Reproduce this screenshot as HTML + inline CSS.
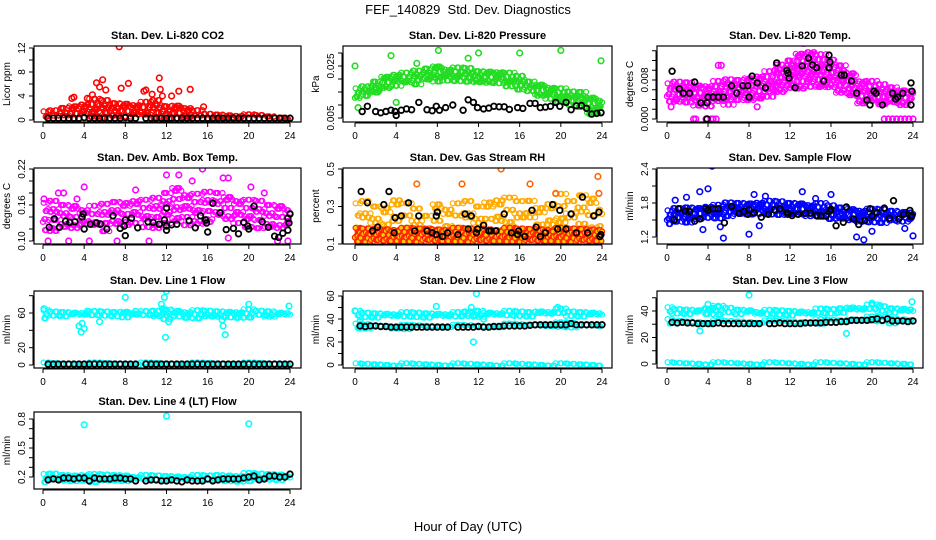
<!DOCTYPE html>
<html><head><meta charset="utf-8">
<style>
html,body{margin:0;padding:0;background:#fff;}
svg{display:block;font-family:"Liberation Sans",Arial,sans-serif;}
</style></head>
<body>
<svg id="chart" width="936" height="540" viewBox="0 0 936 540" xmlns="http://www.w3.org/2000/svg">
<rect width="936" height="540" fill="#fff"/>
<text x="468" y="14" text-anchor="middle" font-size="13">FEF_140829&#160; Std. Dev. Diagnostics</text>
<text x="468" y="531" text-anchor="middle" font-size="13">Hour of Day (UTC)</text>
<g id="panels"></g>
</svg>
<script>
const hours = [0,1,2,3,4,5,6,7,8,9,10,11,12,13,14,15,16,17,18,19,20,21,22,23,24];
const xTicks = [0,4,8,12,16,20,24];

// CO2
const co2Lo = [0.2,0.2,0.2,0.2,0.2,0.2,0.2,0.2,0.2,0.2,0.2,0.2,0.2,0.2,0.2,0.2,0.2,0.2,0.2,0.2,0.2,0.2,0.2,0.2,0.2];
const co2Hi = [1.2,1.5,2,2.4,2.8,3.3,3.2,2.8,2.8,2.7,2.8,3.2,2.3,2.5,2.2,1.4,0.9,0.9,0.9,0.9,0.7,0.7,0.6,0.5,0.4];
const co2OutH = [7.4,5.2,5.8,8.3,11.3,13.2,14.3,6.1,11.4,10,5.5,7.6,3,4.3,12.5,9.8,15.6,2.8,4.8,10.6,11.6];
const co2OutV = [12.2,6.2,6.7,6.1,7,4.8,5.1,5,5.1,5,5.5,5.3,3.8,3.6,4,4.8,2.2,3.6,4.2,4.3,4];
const co2BlkH = [0.5,1,1.5,2,2.5,3,3.5,4,4.5,5,5.5,6,6.5,7,7.5,8,8.5,9,10,10.5,11,11.5,12,12.5,13,13.5,14,14.5,15,15.5,16,16.5,17,17.5,18,18.5,19,19.5,20,20.5,21,21.5,22,22.5,23,23.5,24];
const co2BlkV = [0.3,0.3,0.3,0.3,0.3,0.3,0.3,0.4,0.3,0.3,0.3,0.3,0.3,0.3,0.3,0.4,0.3,0.3,0.3,0.3,0.3,0.3,0.3,0.3,0.3,0.3,0.3,0.3,0.3,0.3,0.3,0.3,0.3,0.3,0.3,0.3,0.3,0.3,0.3,0.3,0.3,0.3,0.3,0.3,0.3,0.3,0.3];

// Pressure
const prLo = [0.012,0.013,0.014,0.016,0.017,0.018,0.018,0.019,0.019,0.019,0.019,0.019,0.018,0.018,0.018,0.017,0.016,0.015,0.013,0.012,0.011,0.010,0.009,0.006,0.007];
const prHi = [0.016,0.017,0.019,0.021,0.022,0.022,0.023,0.024,0.025,0.024,0.024,0.024,0.023,0.023,0.023,0.022,0.021,0.019,0.018,0.017,0.016,0.015,0.015,0.013,0.012];
const prOutH = [0,8.1,3.5,12,16,20,23.9,11,4,6,0.3];
const prOutV = [0.025,0.031,0.029,0.030,0.030,0.031,0.027,0.028,0.011,0.026,0.009];
const prBlkH = [0.7,1.2,2,2.5,3,3.5,3.9,4,4.5,5,5.5,6.2,7,7.5,7.9,8.2,8.8,9.5,10.5,11,11.5,11.9,12.5,13,13.5,14,14.5,15,15.8,16.3,17,17.5,18,18.5,19,19.5,19.9,20.5,21,21.5,22,22.5,23,23.5,23.9];
const prBlkV = [0.0075,0.0095,0.0075,0.007,0.0075,0.008,0.0075,0.006,0.008,0.0085,0.0082,0.011,0.0082,0.0078,0.0095,0.008,0.009,0.010,0.008,0.012,0.011,0.009,0.0085,0.0088,0.0095,0.0093,0.0093,0.0083,0.009,0.0087,0.0106,0.0106,0.009,0.0092,0.0095,0.011,0.0095,0.011,0.0082,0.0097,0.0098,0.0087,0.0065,0.0068,0.007];

// Li-820 temp
const ltLo = [0.003,0.003,0.003,0.0025,0.0025,0.003,0.003,0.0035,0.0035,0.004,0.0045,0.005,0.0055,0.006,0.0065,0.006,0.0055,0.005,0.004,0.003,0.003,0.0025,0.0025,0.0025,0.003];
const ltHi = [0.007,0.0075,0.0075,0.007,0.007,0.0075,0.008,0.008,0.0085,0.009,0.0095,0.011,0.012,0.0135,0.014,0.013,0.012,0.011,0.0095,0.008,0.0075,0.007,0.0065,0.006,0.006];
const ltOutH = [2.6,2.8,3.8,4.3,4.5,4.8,21.2,21.6,22,22.4,22.8,23.2,23.6,24,13.3,0.4,5,5.3,7.9,8.8];
const ltOutV = [0,0,0,0,0,0,0,0,0,0,0,0,0,0,0.0155,0.0025,0.011,0.011,0.004,0.0025];
const ltBlkH = [0.5,1.2,1.6,2.2,2.7,3.3,3.9,3.9,4,4.5,5,5.5,6.3,6.8,7.4,7.9,8,8.3,8.8,9.6,10.7,11.7,11.8,11.9,12.5,13.2,13.8,14.2,14.6,15.3,15.8,15.9,15.8,17,17.3,18,18.5,19.5,19.8,20.2,20.4,21,22,22.3,22.5,23,23.8,23.9,23.8];
const ltBlkV = [0.0098,0.0062,0.0053,0.0053,0.0076,0.0033,0.0033,0,0.0045,0.0045,0.0045,0.0045,0.0068,0.0053,0.0068,0.0068,0.0045,0.0088,0.0074,0.0064,0.0115,0.01,0.0094,0.0084,0.0064,0.0109,0.0125,0.0111,0.0105,0.0078,0.0131,0.0117,0.0105,0.009,0.009,0.0078,0.0053,0.0039,0.0029,0.0057,0.0053,0.0029,0.0053,0.0041,0.0045,0.0053,0.0074,0.0057,0.0029];

// Amb box temp
const abLo = [0.12,0.115,0.12,0.115,0.12,0.12,0.12,0.125,0.12,0.125,0.125,0.12,0.125,0.13,0.13,0.125,0.13,0.135,0.13,0.125,0.125,0.12,0.115,0.115,0.12];
const abHi = [0.16,0.165,0.16,0.16,0.155,0.155,0.16,0.165,0.165,0.17,0.165,0.17,0.18,0.19,0.18,0.175,0.18,0.18,0.175,0.17,0.165,0.165,0.16,0.16,0.155];
const abOutH = [4,1.5,2,3.3,12,13.2,15.5,17.5,18,20.2,21.5,0.5,2.5,7.2,10.3,23.8,18,22.8,4.5,0.1,9,14.5];
const abOutV = [0.19,0.18,0.18,0.17,0.21,0.21,0.22,0.205,0.205,0.19,0.18,0.1,0.1,0.1,0.1,0.1,0.105,0.1,0.1,0.17,0.185,0.2];
const abBlkH = [0.6,1.1,1.6,2.2,2.6,3.1,3.8,3.9,4,4.6,5.2,5.6,6.2,6.8,7.5,7.9,8,8,8.6,9.2,10.2,10.7,11.3,11.8,12,12,12,12.5,13,14.2,14.8,15.3,15.8,15.9,16,16.5,17.2,17.8,18.5,19,19.5,19.9,20,20.5,21.3,21.9,22.5,22.9,23.3,23.8,23.9,23.8,24];
const abBlkV = [0.123,0.137,0.123,0.133,0.131,0.132,0.14,0.145,0.12,0.128,0.13,0.128,0.12,0.142,0.121,0.125,0.135,0.109,0.138,0.122,0.132,0.131,0.128,0.135,0.118,0.125,0.155,0.127,0.128,0.134,0.122,0.142,0.135,0.13,0.115,0.163,0.147,0.119,0.121,0.112,0.131,0.125,0.12,0.158,0.132,0.123,0.108,0.106,0.113,0.118,0.13,0.138,0.145];

// Gas stream RH
const rhLo = [0.11,0.11,0.11,0.11,0.11,0.11,0.11,0.11,0.11,0.11,0.11,0.11,0.11,0.11,0.11,0.11,0.11,0.11,0.11,0.11,0.11,0.11,0.11,0.11,0.11];
const rhHi = [0.18,0.18,0.18,0.18,0.18,0.18,0.18,0.18,0.18,0.18,0.18,0.18,0.18,0.18,0.18,0.18,0.18,0.18,0.18,0.18,0.18,0.18,0.18,0.18,0.18];
const rhTop = [0.3,0.32,0.3,0.3,0.35,0.3,0.28,0.25,0.32,0.3,0.3,0.32,0.3,0.33,0.35,0.33,0.32,0.33,0.3,0.33,0.35,0.32,0.36,0.35,0.3];
const rhOutH = [14.2,17,23.6,6,10.4,19.5,23.7];
const rhOutV = [0.5,0.42,0.46,0.42,0.42,0.37,0.37];
const rhBlkH = [0.6,1.2,1.7,2.2,2.8,3.3,3.8,3.9,4.5,5.2,5.8,6.2,7,7.5,7.9,7.9,8,8.5,9,10,10.7,11,11.3,11.8,11.9,12.5,13,13.2,13.7,14.5,15.2,15.8,15.9,16.5,17.2,17.6,18,18.5,19.2,19.7,19.9,20.5,21,21.5,22.1,22.6,23.2,23.7,23.8,23.9];
const rhBlkV = [0.38,0.32,0.17,0.19,0.31,0.38,0.16,0.24,0.25,0.32,0.17,0.25,0.17,0.16,0.15,0.25,0.27,0.14,0.16,0.15,0.26,0.18,0.25,0.16,0.18,0.2,0.17,0.17,0.17,0.26,0.16,0.15,0.17,0.14,0.28,0.19,0.14,0.16,0.31,0.18,0.28,0.18,0.26,0.16,0.35,0.16,0.25,0.27,0.14,0.15];

// Sample flow
const sfLo = [1.42,1.45,1.45,1.5,1.5,1.52,1.55,1.55,1.55,1.58,1.58,1.58,1.58,1.56,1.55,1.55,1.52,1.5,1.48,1.46,1.46,1.45,1.45,1.45,1.45];
const sfHi = [1.65,1.7,1.72,1.72,1.75,1.75,1.8,1.8,1.8,1.82,1.82,1.82,1.8,1.8,1.78,1.78,1.75,1.72,1.7,1.68,1.68,1.68,1.66,1.65,1.65];
const sfOutH = [4.4,4,3.2,5.5,8,19.2,24,16,13.2,8.5,9.6,18.5,1.9,3.5,5.2,20,23.2,0.8,9,14.5];
const sfOutV = [2.45,2.05,2.0,1.18,1.25,1.15,1.22,1.95,2.0,1.95,1.92,1.2,1.9,1.33,1.38,1.3,1.35,1.85,1.4,1.88];
const sfBlkH = [0.7,1.1,1.8,2.2,2.7,3.2,3.8,4,4.5,5,5.6,6.3,7,7.5,7.9,8,8.5,9.2,9.9,10.5,11,11.7,11.8,12.2,12.8,13.5,14,14.6,15,15.5,15.9,16,16.5,17.2,17.5,18.2,18.7,19.3,19.8,20,20.5,21.2,21.7,22.1,22.6,23.1,23.7,23.8,23.9];
const sfBlkV = [1.5,1.7,1.66,1.65,1.48,1.52,1.7,1.67,1.7,1.7,1.45,1.74,1.62,1.65,1.6,1.68,1.63,1.55,1.6,1.68,1.7,1.63,1.6,1.58,1.6,1.62,1.62,1.58,1.57,1.57,1.66,1.69,1.4,1.46,1.73,1.52,1.42,1.49,1.7,1.57,1.63,1.71,1.53,1.84,1.52,1.6,1.67,1.56,1.58];

// Line flows
const l1Lo = [55,55,55,55,55,55,55,55,55,55,55,55,53,54,55,55,55,55,55,55,56,56,55,55,55];
const l1Hi = [62,61,61,61,61,61,61,61,62,61,61,62,64,63,62,62,62,62,62,62,63,62,62,61,61];
const l1OutH = [0.1,3.5,3.7,3.8,4,8,11.5,11.6,12,11.8,11.9,12.2,17.4,17.5,17.7,23.9,20,4.3,9,5.5];
const l1OutV = [65,45,38,48,42,78,70,65,85,78,32,50,52,45,35,68,70,62,62,50];
const l2Up = [[43,46],[42,45],[42,45],[42,45],[42,45],[42,45],[42,45],[42,45],[42,45],[42,45],[42,45],[42,46],[41,47],[42,46],[42,46],[43,46],[43,46],[43,46],[43,47],[43,47],[44,48],[43,46],[43,46],[43,46],[43,46]];
const l2Mid = [[32,35],[32,35],[32,34],[32,34],[31,34],[31,34],[32,34],[32,34],[32,34],[32,34],[32,34],[32,34],[32,34],[32,34],[32,34],[33,35],[33,35],[33,35],[33,35],[33,36],[33,36],[33,36],[33,35],[33,35],[33,35]];
const l2OutH = [0,11.8,11.5,11.3,11,12.5,0.5,13,19.7,7.9];
const l2OutV = [47,62,20,50,45,40,38,45,50,51];
const l3Up = [[38,42],[38,41],[38,41],[38,41],[37,43],[38,43],[38,42],[38,41],[38,41],[37,40],[37,40],[37,40],[37,40],[37,40],[37,40],[38,41],[38,41],[38,42],[39,43],[39,43],[40,44],[40,43],[39,42],[39,42],[39,42]];
const l3Mid = [[30,33],[30,32],[30,32],[30,32],[29,32],[30,32],[30,32],[30,32],[30,32],[30,32],[30,32],[30,32],[30,32],[30,32],[30,32],[30,33],[31,33],[31,33],[31,34],[32,34],[32,35],[32,35],[31,34],[31,34],[31,34]];
const l3OutH = [8,4,5,17.5,3.2,20,23.9,20.8,4.5];
const l3OutV = [52,45,43,23,25,46,47,44,42];
const l4Lo = [0.15,0.15,0.15,0.15,0.15,0.15,0.15,0.15,0.15,0.15,0.15,0.15,0.15,0.15,0.15,0.15,0.15,0.15,0.15,0.15,0.16,0.16,0.16,0.16,0.16];
const l4Hi = [0.22,0.23,0.22,0.22,0.23,0.22,0.22,0.22,0.22,0.21,0.21,0.21,0.21,0.21,0.21,0.21,0.21,0.22,0.22,0.22,0.23,0.23,0.23,0.23,0.22];
const l4OutH = [4,12,20];
const l4OutV = [0.74,0.83,0.75];
const zeroLo = [0,0,0,0,0,0,0,0,0,0,0,0,0,0,0,0,0,0,0,0,0,0,0,0,0];
const zeroHi = [0.5,0.5,0.5,0.5,0.5,0.5,0.5,0.5,0.5,0.5,0.5,0.5,0.5,0.5,0.5,0.5,0.5,0.5,0.5,0.5,0.5,0.5,0.5,0.5,0.5];
const l1ZeroHi = [1.5,1.5,1.5,1.5,1.5,1.5,1.5,1.5,1.5,1.5,1.5,1.5,1.5,1.5,1.5,1.5,1.5,1.5,1.5,1.5,1.5,1.5,1.5,1.5,1.5];
const flowBlkH = [0.5,1,1.5,2,2.5,3,3.5,4,4.5,5,5.5,6,6.5,7,7.5,8,8.5,9,10,10.5,11,11.5,12,12.5,13,13.5,14,14.5,15,15.5,16,16.5,17,17.5,18,18.5,19,19.5,20,20.5,21,21.5,22,22.5,23,23.5,24];
const l1BlkV = [1,1,1,1,1,1,1,1,1,1,1,1,1,1,1,1,1,1,1,1,1,1,1,1,1,1,1,1,1,1,1,1,1,1,1,1,1,1,1,1,1,1,1,1,1,1,1];
const l2BlkV = [34,33.5,34,34,33.5,33.5,33,33,33,33,33,33,33,33,33,33,33,33,33,33,33,33,33.5,33,33,33.5,33.5,34,34,34,34,34,34.5,35,35,35,35,35,35,35,36,35,35,35,35,35,35];
const l3BlkV = [31.5,31,31.5,31,31,30.5,30.5,30.5,30.5,31,30.5,30.5,30.5,30.5,30.5,30.5,30.5,30.5,30.5,30.5,31,30.5,30.5,30.5,30.5,31,31,31,31,31.5,31.5,31.5,32,32,33,33,33,33,33.5,34,33,34,32.5,32.5,32.5,32,32.5];
const l4BlkV = [0.17,0.18,0.17,0.19,0.19,0.18,0.19,0.19,0.16,0.19,0.18,0.18,0.18,0.19,0.19,0.18,0.18,0.16,0.16,0.17,0.17,0.16,0.16,0.17,0.16,0.15,0.17,0.16,0.16,0.16,0.18,0.16,0.17,0.18,0.18,0.18,0.18,0.19,0.2,0.21,0.17,0.18,0.21,0.21,0.2,0.2,0.23];

const NS = 'http://www.w3.org/2000/svg';
const root = document.getElementById('panels');
function mk(tag, parent) { const e = document.createElementNS(NS, tag); parent.appendChild(e); return e; }

const cols = [{L:34,R:301,x0:43,x24:290},{L:343,R:612,x0:355,x24:602},{L:657,R:923,x0:667,x24:913}];
const rows = [{T:46,B:122},{T:168,B:244},{T:291,B:368},{T:412,B:489}];

function panel(p) {
  const c = cols[p.col], r = rows[p.row];
  const g = mk('g', root);
  
  
  const sx = h => c.x0 + (h / 24) * (c.x24 - c.x0);
  const sy = v => p.yp0 + (v - p.yv0) * (p.yp1 - p.yp0) / (p.yv1 - p.yv0);
  const clip = mk('clipPath', g); clip.id = 'clip-' + p.name;
  const cr = mk('rect', clip); cr.setAttribute('x', c.L); cr.setAttribute('y', r.T); cr.setAttribute('width', c.R - c.L); cr.setAttribute('height', r.B - r.T);
  const pts = mk('g', g);
  pts.setAttribute('clip-path', 'url(#clip-' + p.name + ')');
  
  
  function circ(x, y, col, sw, fill, rr) {
    const e = mk('circle', pts);
    e.setAttribute('cx', x.toFixed(1)); e.setAttribute('cy', y.toFixed(1));
    e.setAttribute('r', rr || 2.5); e.setAttribute('fill', fill || 'none');
    e.setAttribute('stroke', col); e.setAttribute('stroke-width', sw || 1.2);
  }
  function dot(h, v, col, sw, fill, rr) { circ(sx(h), sy(v), col, sw, fill, rr); }
  // band: cloud of points between lo and hi for each hour cell (jitter is visual only)
  function band(lo, hi, col, step, fill) {
    const s = step || 3.2;
    for (let i = 0; i < hours.length; i++) {
      const offs = [-0.375, -0.125, 0.125, 0.375];
      for (let k = 0; k < offs.length; k++) {
        const h = hours[i] + offs[k]; if (h < 0 || h > 24) continue;
        const y1 = sy(hi[i]), y0 = sy(lo[i]);
        let n = 0;
        for (let y = Math.min(y0, y1); y <= Math.max(y0, y1) + 0.01; y += s) {
          const jx = (((i * 7 + k * 13 + n * 3) % 5) - 2) * 0.7;
          const jy = (((i * 11 + k * 5 + n * 7) % 5) - 2) * s * 0.18;
          circ(sx(h) + jx, y + jy, col, 1.2, fill);
          n++;
        }
      }
    }
  }
  p.draw(band, dot);
  const box = mk('rect', g);
  box.setAttribute('x', c.L); box.setAttribute('y', r.T); box.setAttribute('width', c.R - c.L); box.setAttribute('height', r.B - r.T);
  box.setAttribute('fill', 'none'); box.setAttribute('stroke', '#000'); box.setAttribute('stroke-width', 1.2);
  
  
  const t = mk('text', g);
  t.setAttribute('x', (c.L + c.R) / 2); t.setAttribute('y', r.T - 7);
  t.setAttribute('text-anchor', 'middle'); t.setAttribute('font-size', 11); t.setAttribute('font-weight', 'bold');
  t.textContent = p.title;
  
  
  const xa = mk('g', g);
  
  
  const xl = mk('line', xa);
  xl.setAttribute('x1', sx(0)); xl.setAttribute('x2', sx(24)); xl.setAttribute('y1', r.B + 1); xl.setAttribute('y2', r.B + 1); xl.setAttribute('stroke', '#000');
  for (const tk of xTicks) {
    const l = mk('line', xa);
    l.setAttribute('x1', sx(tk)); l.setAttribute('x2', sx(tk)); l.setAttribute('y1', r.B + 1); l.setAttribute('y2', r.B + 5); l.setAttribute('stroke', '#000');
    const tx = mk('text', xa);
    tx.setAttribute('x', sx(tk)); tx.setAttribute('y', r.B + 17); tx.setAttribute('text-anchor', 'middle'); tx.setAttribute('font-size', 10);
    tx.textContent = tk;
  }
  const ya = mk('g', g);
  
  
  const yl = mk('line', ya);
  const tmin = p.ticks[0], tmax = p.ticks[p.ticks.length - 1];
  yl.setAttribute('x1', c.L - 1); yl.setAttribute('x2', c.L - 1); yl.setAttribute('y1', sy(tmin)); yl.setAttribute('y2', sy(tmax)); yl.setAttribute('stroke', '#000');
  for (const tk of p.ticks) {
    const l = mk('line', ya);
    l.setAttribute('x1', c.L - 5); l.setAttribute('x2', c.L - 1); l.setAttribute('y1', sy(tk)); l.setAttribute('y2', sy(tk)); l.setAttribute('stroke', '#000');
  }
  for (let i = 0; i < p.labels.length; i++) {
    const tx = mk('text', ya);
    const x = c.L - 9, y = sy(p.labels[i]);
    tx.setAttribute('x', x); tx.setAttribute('y', y); tx.setAttribute('text-anchor', 'middle'); tx.setAttribute('font-size', 10);
    tx.setAttribute('transform', 'rotate(-90 ' + x + ' ' + y + ')');
    tx.textContent = p.labelText[i];
  }
  const yt = mk('text', g);
  const yx = c.L - 24, yy = (r.T + r.B) / 2;
  yt.setAttribute('x', yx); yt.setAttribute('y', yy); yt.setAttribute('text-anchor', 'middle'); yt.setAttribute('font-size', 10);
  yt.setAttribute('transform', 'rotate(-90 ' + yx + ' ' + yy + ')');
  yt.textContent = p.ylab;
  
  
}

const BLK = (dot, H, V) => { for (let i = 0; i < H.length; i++) dot(H[i], V[i], '#000', 1.8, 'none', 2.8); };
const OUT = (dot, H, V, col) => { for (let i = 0; i < H.length; i++) dot(H[i], V[i], col, 1.6, 'none', 2.8); };
const bandPairs = (band, arr, col) => band(arr.map(a => a[0]), arr.map(a => a[1]), col);

panel({name:'co2', col:0, row:0, title:'Stan. Dev. Li-820 CO2', ylab:'Licor ppm', yv0:0, yp0:120, yv1:12, yp1:48,
  ticks:[0,2,4,6,8,10,12], labels:[0,4,8,12], labelText:['0','4','8','12'],
  draw:(band,dot)=>{ band(co2Lo, co2Hi, '#ff0000', 4); OUT(dot, co2OutH, co2OutV, '#ff0000'); BLK(dot, co2BlkH, co2BlkV); }});
panel({name:'pressure', col:1, row:0, title:'Stan. Dev. Li-820 Pressure', ylab:'kPa', yv0:0.005, yp0:118, yv1:0.025, yp1:66,
  ticks:[0.005,0.01,0.015,0.02,0.025,0.03], labels:[0.005,0.025], labelText:['0.005','0.025'],
  draw:(band,dot)=>{ band(prLo, prHi, '#22dd22', 3); OUT(dot, prOutH, prOutV, '#22dd22'); BLK(dot, prBlkH, prBlkV); }});
panel({name:'li820-temp', col:2, row:0, title:'Stan. Dev. Li-820 Temp.', ylab:'degrees C', yv0:0, yp0:119, yv1:0.008, yp1:80,
  ticks:[0,0.002,0.004,0.006,0.008,0.01,0.012,0.014], labels:[0,0.008], labelText:['0.000','0.008'],
  draw:(band,dot)=>{ band(ltLo, ltHi, '#ff00ff', 4); OUT(dot, ltOutH, ltOutV, '#ff00ff'); BLK(dot, ltBlkH, ltBlkV); }});
panel({name:'amb-box-temp', col:0, row:1, title:'Stan. Dev. Amb. Box Temp.', ylab:'degrees C', yv0:0.10, yp0:241, yv1:0.22, yp1:169,
  ticks:[0.10,0.12,0.14,0.16,0.18,0.20,0.22], labels:[0.10,0.16,0.22], labelText:['0.10','0.16','0.22'],
  draw:(band,dot)=>{ band(abLo, abHi, '#ff00ff', 6); OUT(dot, abOutH, abOutV, '#ff00ff'); BLK(dot, abBlkH, abBlkV); }});
panel({name:'gas-rh', col:1, row:1, title:'Stan. Dev. Gas Stream RH', ylab:'percent', yv0:0.1, yp0:244, yv1:0.5, yp1:169,
  ticks:[0.1,0.2,0.3,0.4,0.5], labels:[0.1,0.3,0.5], labelText:['0.1','0.3','0.5'],
  draw:(band,dot)=>{ band(rhHi, rhTop, '#ffaa00', 9, 'none'); band(rhLo, rhHi, '#ff2200', 3, '#ffcc00'); OUT(dot, rhOutH, rhOutV, '#ff6600'); BLK(dot, rhBlkH, rhBlkV); }});
panel({name:'sample-flow', col:2, row:1, title:'Stan. Dev. Sample Flow', ylab:'ml/min', yv0:1.2, yp0:237, yv1:2.4, yp1:169,
  ticks:[1.2,1.5,1.8,2.1,2.4], labels:[1.2,1.8,2.4], labelText:['1.2','1.8','2.4'],
  draw:(band,dot)=>{ band(sfLo, sfHi, '#0000ff', 3); OUT(dot, sfOutH, sfOutV, '#0000ff'); BLK(dot, sfBlkH, sfBlkV); }});
panel({name:'line1-flow', col:0, row:2, title:'Stan. Dev. Line 1 Flow', ylab:'ml/min', yv0:0, yp0:365, yv1:60, yp1:313,
  ticks:[0,20,40,60,80], labels:[0,20,60], labelText:['0','20','60'],
  draw:(band,dot)=>{ band(l1Lo, l1Hi, '#00ffff', 3); band(zeroLo, l1ZeroHi, '#00ffff'); OUT(dot, l1OutH, l1OutV, '#00ffff'); BLK(dot, flowBlkH, l1BlkV); }});
panel({name:'line2-flow', col:1, row:2, title:'Stan. Dev. Line 2 Flow', ylab:'ml/min', yv0:0, yp0:365, yv1:60, yp1:296,
  ticks:[0,10,20,30,40,50,60], labels:[0,20,40,60], labelText:['0','20','40','60'],
  draw:(band,dot)=>{ bandPairs(band, l2Up, '#00ffff'); bandPairs(band, l2Mid, '#00ffff'); band(zeroLo, zeroHi, '#00ffff'); OUT(dot, l2OutH, l2OutV, '#00ffff'); BLK(dot, flowBlkH, l2BlkV); }});
panel({name:'line3-flow', col:2, row:2, title:'Stan. Dev. Line 3 Flow', ylab:'ml/min', yv0:0, yp0:364, yv1:40, yp1:311,
  ticks:[0,10,20,30,40,50], labels:[0,20,40], labelText:['0','20','40'],
  draw:(band,dot)=>{ bandPairs(band, l3Up, '#00ffff'); bandPairs(band, l3Mid, '#00ffff'); band(zeroLo, zeroHi, '#00ffff'); OUT(dot, l3OutH, l3OutV, '#00ffff'); BLK(dot, flowBlkH, l3BlkV); }});
panel({name:'line4-flow', col:0, row:3, title:'Stan. Dev. Line 4 (LT) Flow', ylab:'ml/min', yv0:0.2, yp0:477, yv1:0.8, yp1:419,
  ticks:[0.2,0.3,0.4,0.5,0.6,0.7,0.8], labels:[0.2,0.5,0.8], labelText:['0.2','0.5','0.8'],
  draw:(band,dot)=>{ band(l4Lo, l4Hi, '#00ffff', 3); OUT(dot, l4OutH, l4OutV, '#00ffff'); BLK(dot, flowBlkH, l4BlkV); }});
</script>
</body></html>
